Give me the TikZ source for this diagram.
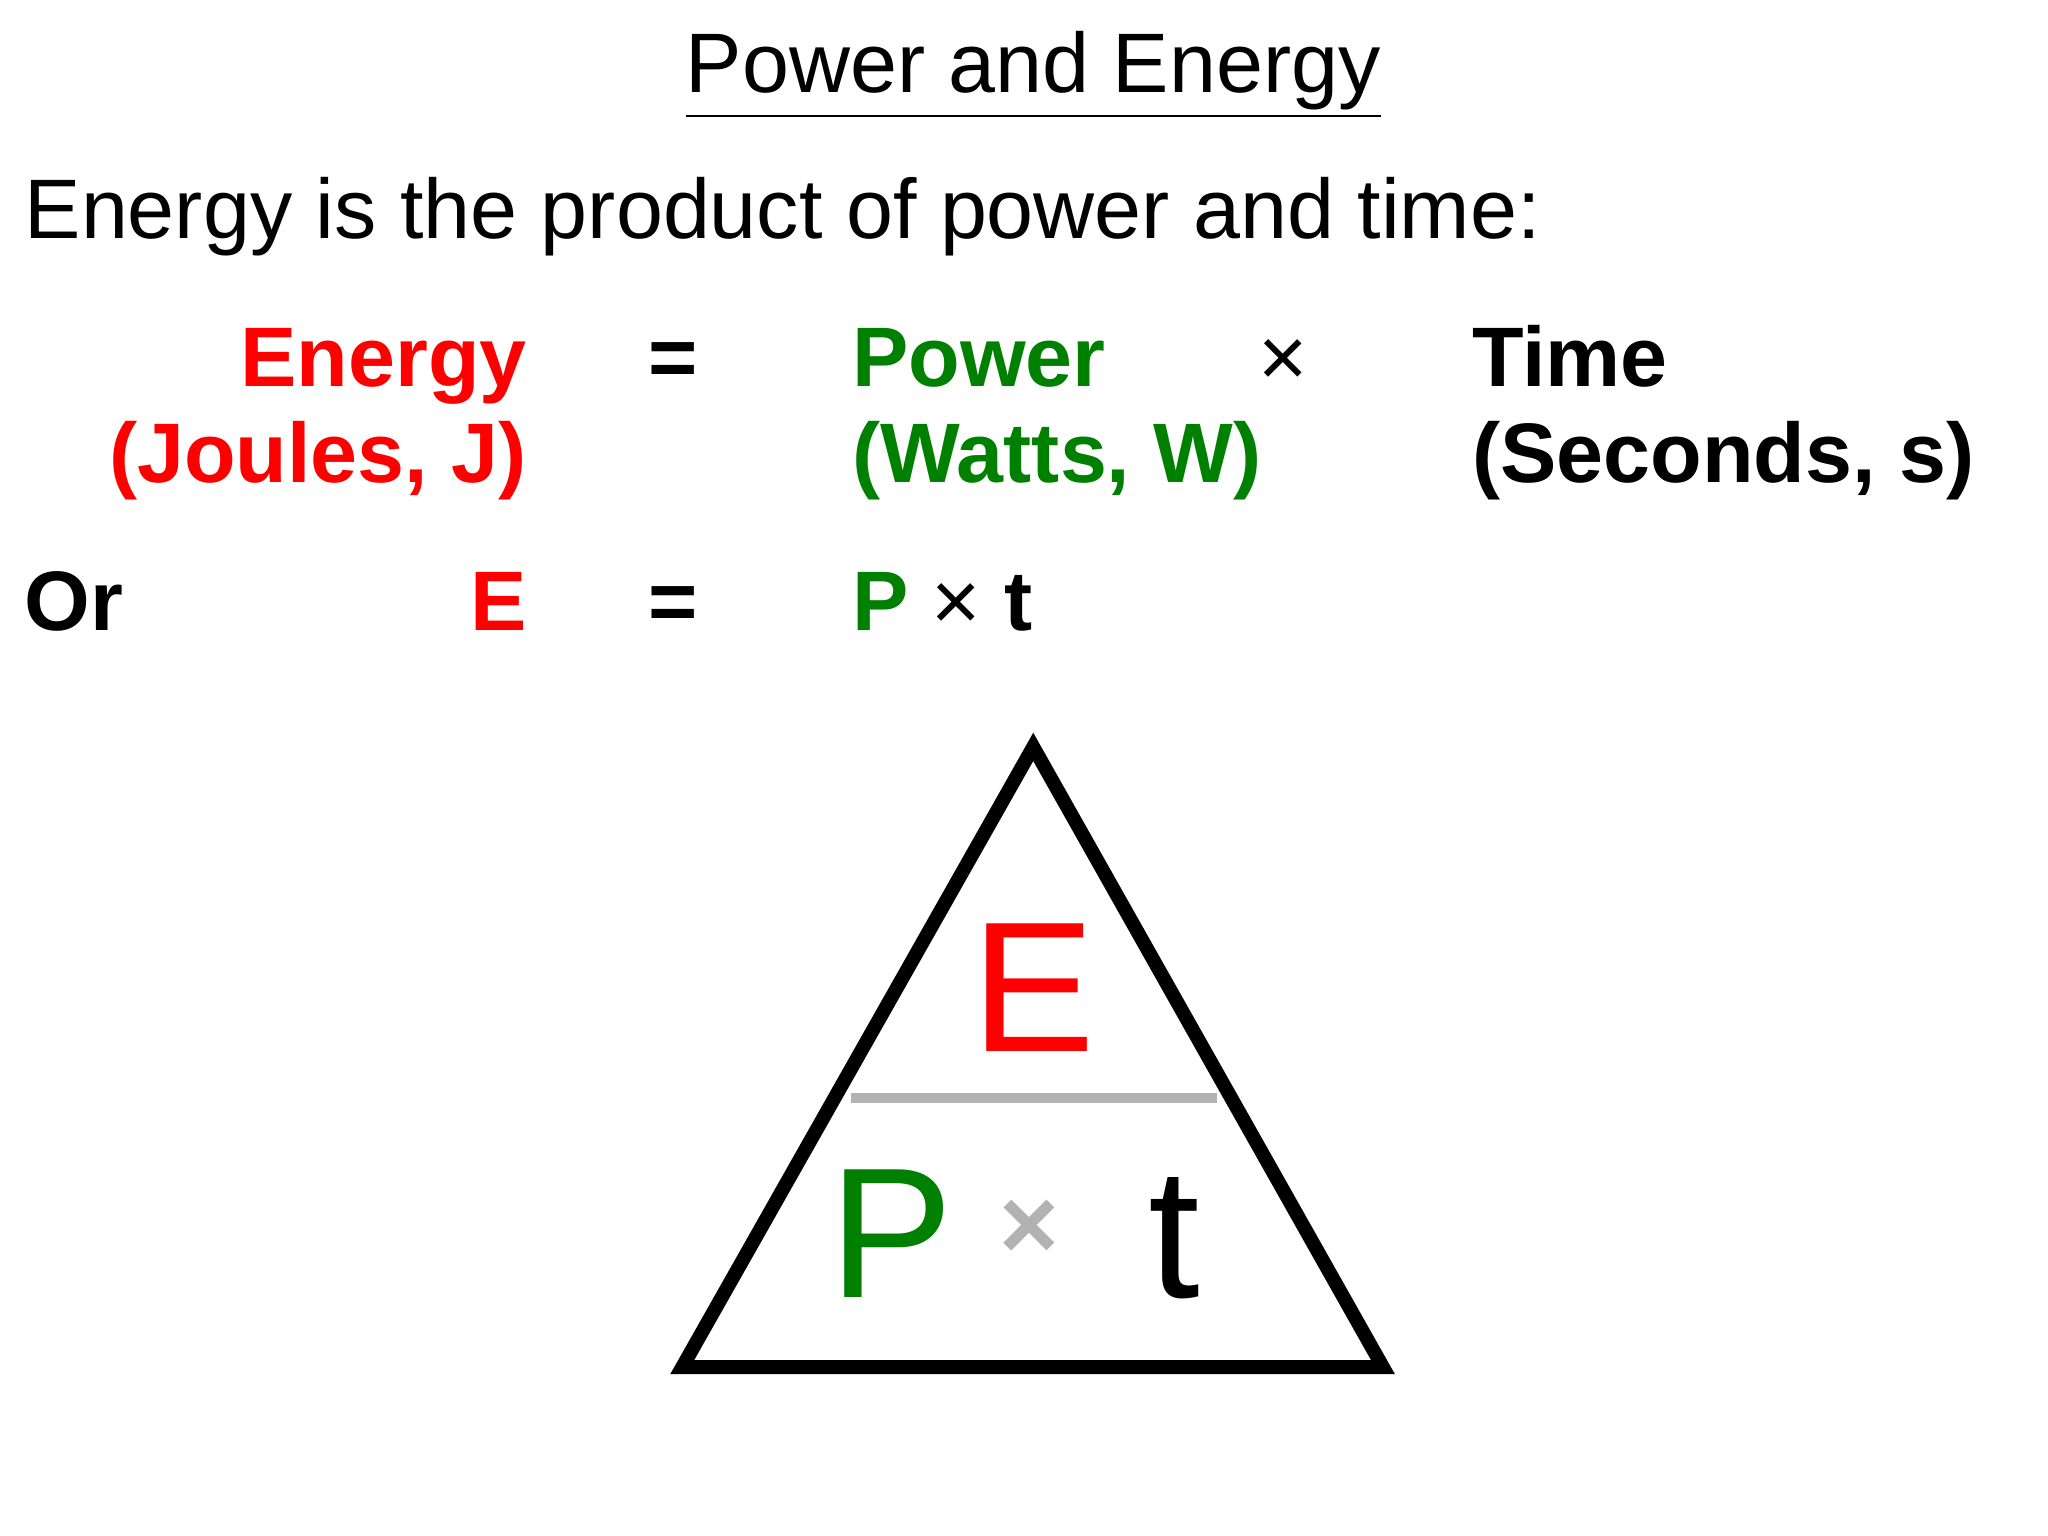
\documentclass[tikz,border=0pt]{standalone}
\usepackage{fontspec}
\setmainfont{Liberation Sans}
\definecolor{myred}{RGB}{255,0,0}
\definecolor{mygreen}{RGB}{0,128,0}
\definecolor{mygray}{RGB}{178,178,178}
\begin{document}
\begin{tikzpicture}[x=0.01cm,y=-0.01cm,
  big/.style={font=\fontsize{18.2}{20}\selectfont,inner sep=0pt},
  bbig/.style={font=\fontsize{18.2}{20}\selectfont\bfseries,inner sep=0pt},
  tri/.style={font=\fontsize{40}{44}\selectfont,inner sep=0pt}]
\useasboundingbox (0,0) rectangle (1552,1164);
\node[big,anchor=base] (title) at (783,70) {\underline{Power and Energy}};
\node[big,anchor=base west] (intro) at (18,181) {Energy is the product of power and time:};
\node[bbig,anchor=base east,text=myred] (en) at (400,293) {Energy};
\node[bbig,anchor=base east,text=myred] (enu) at (400,366) {(Joules, J)};
\node[bbig,anchor=base] (eq1) at (510,293) {=};
\node[bbig,anchor=base west,text=mygreen] (pw) at (645,293) {Power};
\node[bbig,anchor=base west,text=mygreen] (pwu) at (645,366) {(Watts, W)};
\node[big,anchor=base] (x1) at (972,293) {×};
\node[bbig,anchor=base west] (tm) at (1115,293) {Time};
\node[bbig,anchor=base west] (tmu) at (1115,366) {(Seconds, s)};
\node[bbig,anchor=base west] (or) at (18,478) {Or};
\node[bbig,anchor=base east,text=myred] (e2) at (400,478) {E};
\node[bbig,anchor=base] (eq2) at (510,478) {=};
\node[bbig,anchor=base west] (pt) at (645,478) {\textcolor{mygreen}{P} \mdseries×\bfseries{} t};
\coordinate (apex) at (783,566);
\coordinate (bl) at (517,1036);
\coordinate (br) at (1048,1036);
\draw[line width=3pt] (apex) -- (bl) -- (br) -- cycle;
\coordinate (gl) at (645,832);
\coordinate (gr) at (922,832);
\draw[mygray,line width=2pt] (gl) -- (gr);
\node[tri,anchor=base,text=myred] (te) at (783,797) {E};
\node[tri,anchor=base west,text=mygreen] (tp) at (628,983) {P};
\node[tri,anchor=base] (tt) at (890,983) {t};
\node[font=\fontsize{22}{24}\selectfont\bfseries,text=mygray,inner sep=0pt] (tx) at (780,932) {×};
\end{tikzpicture}
\end{document}
